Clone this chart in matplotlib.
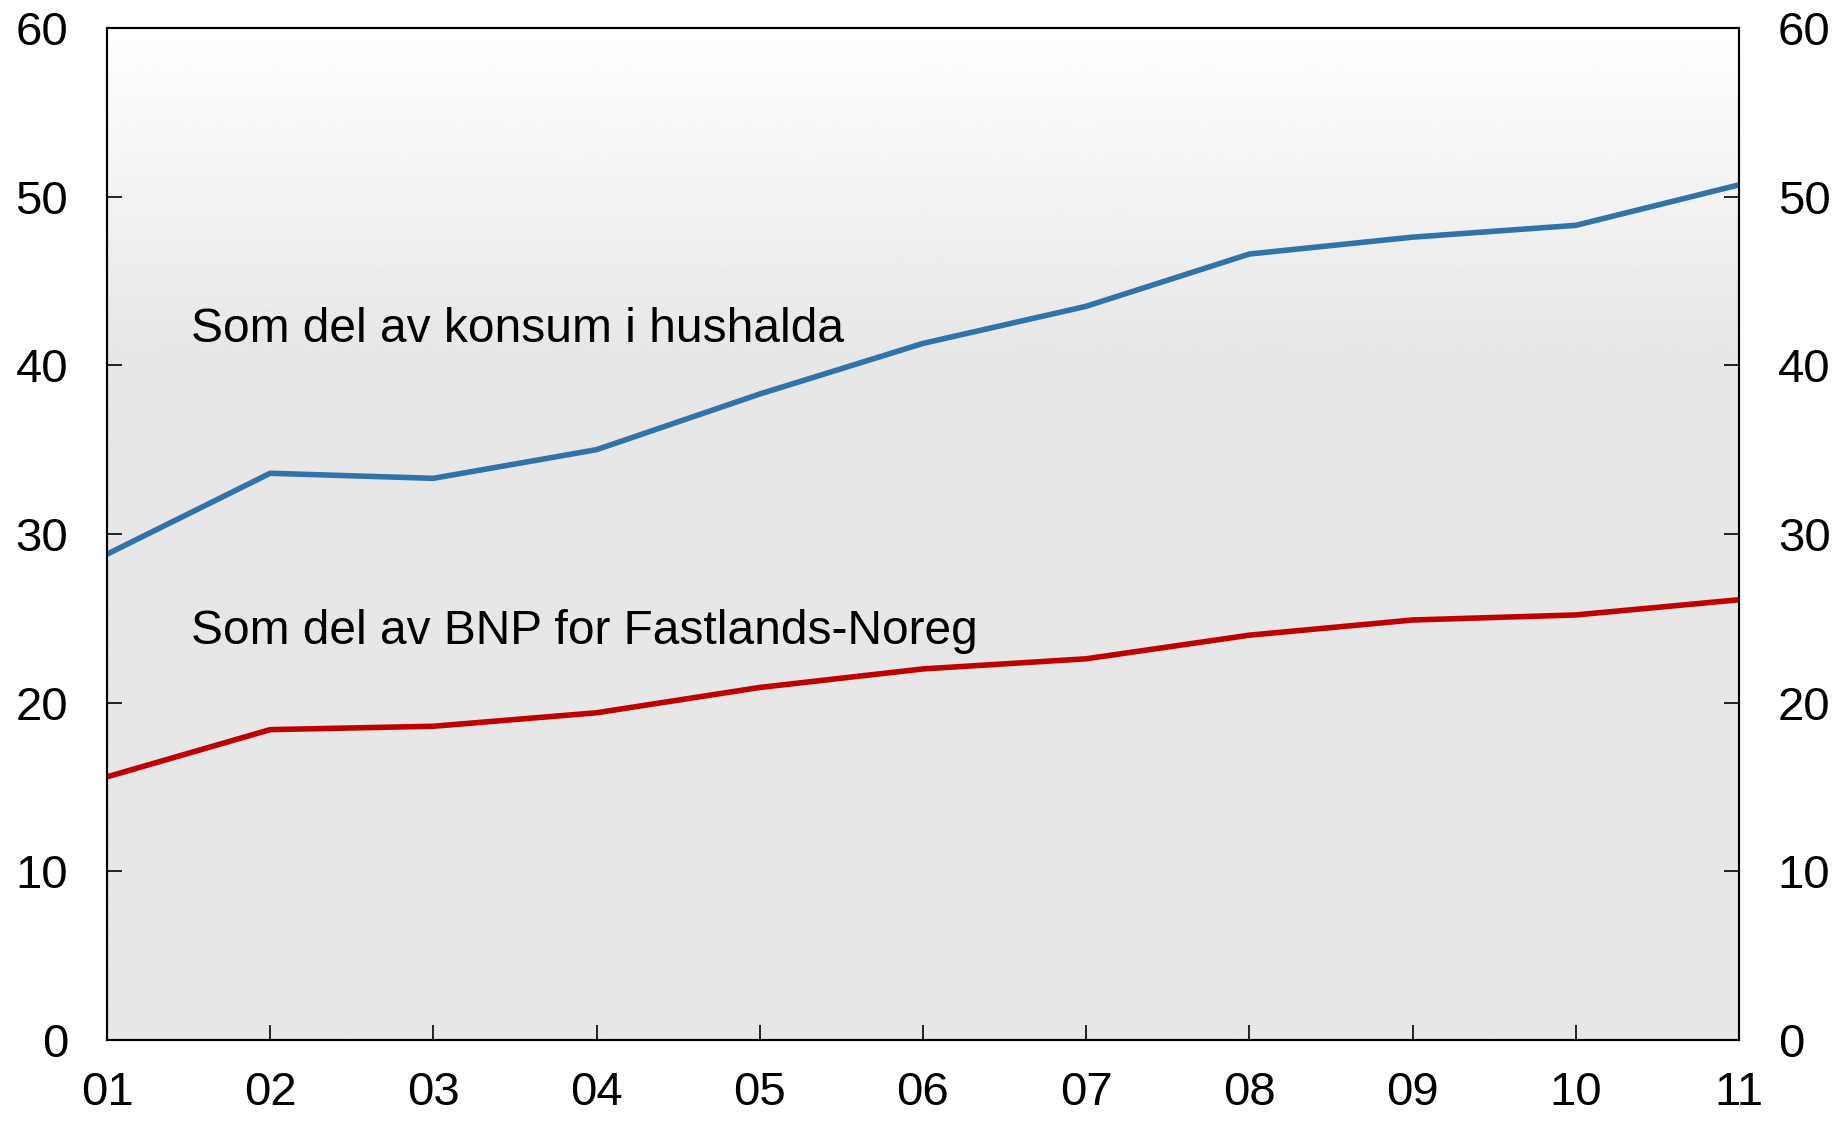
import numpy as np
import matplotlib.pyplot as plt

plt.rcParams['font.family'] = ['Liberation Sans', 'DejaVu Sans']

# data
years = ['01', '02', '03', '04', '05', '06', '07', '08', '09', '10', '11']
konsum = [28.8, 33.6, 33.3, 35.0, 38.3, 41.3, 43.5, 46.6, 47.6, 48.3, 50.7]
bnp = [15.6, 18.4, 18.6, 19.4, 20.9, 22.0, 22.6, 24.0, 24.9, 25.2, 26.1]

x = np.arange(len(years))

fig = plt.figure(figsize=(18.47, 11.21), dpi=100)
ax = fig.add_axes([0.0579, 0.0723, 0.8836, 0.9027])

# grey gradient background, white at the top
grad = np.concatenate([np.linspace(1.0, 0.905, 320), np.full(680, 0.905)])
ax.imshow(grad[:, None], extent=[0, 10, 0, 60], aspect='auto', cmap='gray',
          vmin=0, vmax=1, zorder=0, origin='upper')

ax.plot(x, konsum, color='#3073aa', lw=4.0, zorder=3, solid_capstyle='butt')
ax.plot(x, bnp, color='#c00000', lw=4.0, zorder=3, solid_capstyle='butt')

ax.text(0.515, 41.4, 'Som del av konsum i hushalda', fontsize=34.5, va='baseline')
ax.text(0.515, 23.5, 'Som del av BNP for Fastlands-Noreg', fontsize=34.5, va='baseline')

ax.set_xlim(0, 10)
ax.set_ylim(0, 60)
ax.set_xticks(x)
ax.set_xticklabels(years)
ax.set_yticks(range(0, 61, 10))

ax2 = ax.twinx()
ax2.set_ylim(0, 60)
ax2.set_yticks(range(0, 61, 10))

for a in (ax, ax2):
    for s in a.spines.values():
        s.set_linewidth(1.5)
    a.tick_params(direction='in', length=11, width=1.2, labelsize=34, pad=28)
ax.tick_params(axis='x', pad=22)

fig.savefig('out.png', dpi=100)
